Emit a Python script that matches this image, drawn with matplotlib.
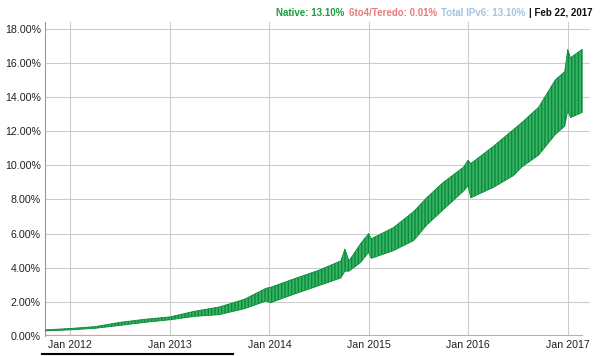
import pandas as pd
import matplotlib
matplotlib.use("Agg")
import matplotlib.pyplot as plt

plt.rcParams['font.family'] = ['Liberation Sans', 'DejaVu Sans']
plt.rcParams['hatch.color'] = '#0b8a3a'

# native IPv6 share (%), weekday low / weekend high envelope
dates = ["2011-10-01", "2012-01-01", "2012-04-01", "2012-07-01", "2012-10-01",
         "2013-01-01", "2013-04-01", "2013-07-01", "2013-10-01", "2013-12-20",
         "2014-01-05", "2014-04-01", "2014-07-01", "2014-09-20", "2014-10-05",
         "2014-10-20", "2014-12-01", "2014-12-31", "2015-01-10", "2015-04-01",
         "2015-06-15", "2015-08-01", "2015-10-01", "2015-12-15", "2015-12-31",
         "2016-01-10", "2016-04-01", "2016-06-15", "2016-07-15", "2016-09-15",
         "2016-11-15", "2016-12-20", "2016-12-31", "2017-01-10", "2017-02-22"]
native_low = [0.30, 0.36, 0.45, 0.62, 0.80,
              0.95, 1.15, 1.25, 1.60, 2.05,
              1.95, 2.45, 2.95, 3.40, 3.80,
              3.80, 4.30, 4.90, 4.55, 5.00,
              5.60, 6.50, 7.40, 8.50, 8.80,
              8.10, 8.70, 9.40, 9.90, 10.60,
              11.80, 12.30, 13.20, 12.80, 13.10]
native_high = [0.36, 0.44, 0.55, 0.80, 0.98,
               1.12, 1.45, 1.70, 2.15, 2.80,
               2.85, 3.35, 3.85, 4.40, 5.10,
               4.40, 5.40, 6.00, 5.70, 6.35,
               7.30, 8.10, 9.00, 9.90, 10.30,
               10.10, 11.10, 12.10, 12.50, 13.40,
               15.00, 15.50, 16.80, 16.30, 16.80]

teredo_dates = ["2011-10-01", "2013-01-01", "2015-01-01", "2017-02-22"]
teredo = [0.02, 0.01, 0.01, 0.01]

year_ticks = ["2012-01-01", "2013-01-01", "2014-01-01", "2015-01-01", "2016-01-01", "2017-01-01"]
year_labels = ["Jan 2012", "Jan 2013", "Jan 2014", "Jan 2015", "Jan 2016", "Jan 2017"]
y_ticks = [0, 2, 4, 6, 8, 10, 12, 14, 16, 18]

d = pd.to_datetime(dates)
td = pd.to_datetime(teredo_dates)

fig = plt.figure(figsize=(6, 3.56), dpi=100)
ax = fig.add_axes([0.075, 0.0562, 0.908, 0.882])

ax.fill_between(d, native_low, native_high, facecolor='#38b366', edgecolor='#0b8a3a',
                linewidth=0.6, hatch='|||||', zorder=3)
ax.plot(td, teredo, color='#e89a9a', linewidth=1.2, zorder=2)

ax.set_xlim(pd.Timestamp("2011-09-30"), pd.Timestamp("2017-03-22"))
ax.set_ylim(0, 18.4)
ax.set_yticks(y_ticks)
ax.set_yticklabels(["%.2f%%" % v for v in y_ticks])
ax.set_xticks(pd.to_datetime(year_ticks))
ax.set_xticklabels(year_labels)
ax.tick_params(length=0, labelsize=7.7, colors='#222222')
ax.tick_params(axis='y', pad=3)
ax.tick_params(axis='x', pad=3)

ax.grid(True, color='#cccccc', linewidth=0.8, zorder=0)
ax.set_axisbelow(True)
for s in ['top', 'right', 'bottom']:
    ax.spines[s].set_visible(False)
ax.spines['left'].set_color('#999999')
ax.spines['left'].set_linewidth(0.8)

# header legend, right aligned
fs = 7.0
t4 = fig.text(0.988, 0.963, "| Feb 22, 2017", ha='right', va='center',
              fontsize=fs, fontweight='bold', color='#111111')
t3 = ax.annotate("Total IPv6: 13.10%", xy=(0, 0.5), xycoords=t4, xytext=(-3, 0),
                 textcoords='offset points', ha='right', va='center',
                 fontsize=fs, fontweight='bold', color='#a6c2e2')
t2 = ax.annotate("6to4/Teredo: 0.01%", xy=(0, 0.5), xycoords=t3, xytext=(-3, 0),
                 textcoords='offset points', ha='right', va='center',
                 fontsize=fs, fontweight='bold', color='#e77a7a')
t1 = ax.annotate("Native: 13.10%", xy=(0, 0.5), xycoords=t2, xytext=(-3, 0),
                 textcoords='offset points', ha='right', va='center',
                 fontsize=fs, fontweight='bold', color='#1f9a3f')

fig.add_artist(plt.Line2D([0.07, 0.388], [0.006, 0.006], color='black', linewidth=1.5))

fig.savefig("out.png", dpi=100)
